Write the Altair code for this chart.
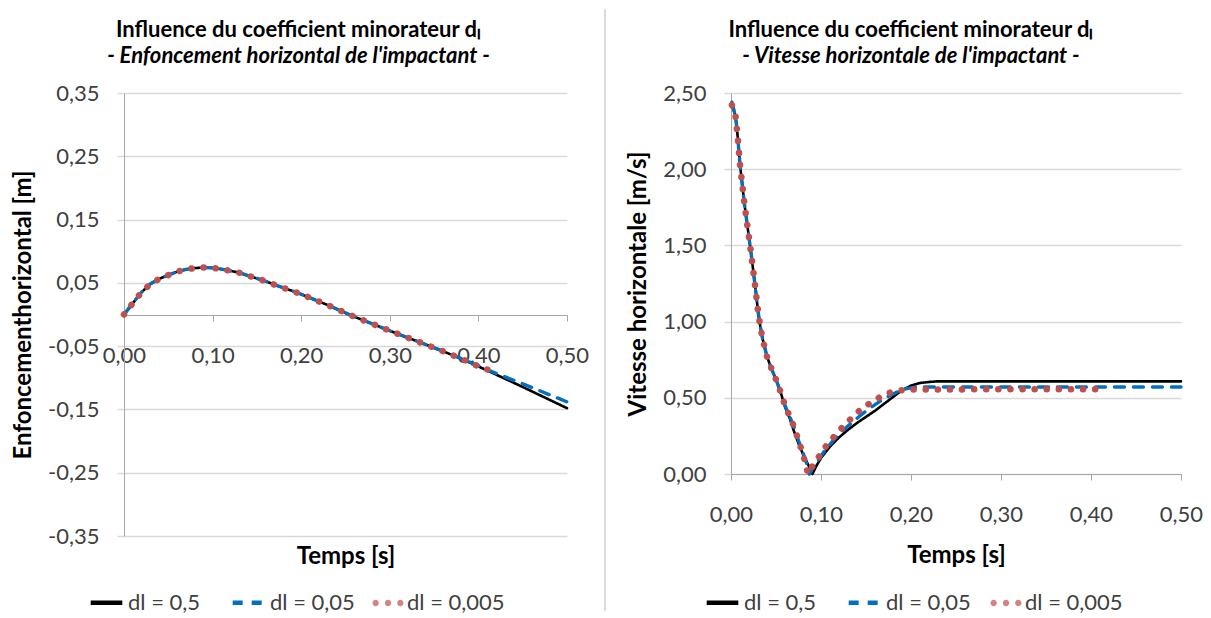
import altair as alt
import pandas as pd

# ---------------- data ----------------
series_names = ["dl = 0,5", "dl = 0,05", "dl = 0,005"]
series_colors = ["#000000", "#0070C0", "#C0504D"]
series_dash = [[1, 0], [10, 9], [0.1, 12]]
series_width = [2.6, 3.4, 6.5]

# Left panel: horizontal penetration [m] vs time [s]
left_t_a = [0, 0.01, 0.02, 0.03, 0.04, 0.05, 0.06, 0.07, 0.08, 0.09, 0.10, 0.11, 0.12, 0.13,
            0.14, 0.15, 0.16, 0.17, 0.18, 0.19, 0.20, 0.21, 0.22, 0.23, 0.24, 0.25, 0.26, 0.28,
            0.30, 0.32, 0.34, 0.36, 0.38, 0.40, 0.42, 0.45, 0.50]
left_v_a = [0, 0.018, 0.0355, 0.0485, 0.0565, 0.0622, 0.0677, 0.0713, 0.0733, 0.0742, 0.0736,
            0.0717, 0.069, 0.0661, 0.0615, 0.057, 0.0525, 0.047, 0.042, 0.0373, 0.032, 0.0263,
            0.0206, 0.0148, 0.0087, 0.0025, -0.0035, -0.0146, -0.0257, -0.0365, -0.0472,
            -0.058, -0.0695, -0.082, -0.095, -0.1145, -0.148]

left_t_b = [0, 0.01, 0.02, 0.03, 0.04, 0.05, 0.06, 0.07, 0.08, 0.09, 0.10, 0.11, 0.12, 0.13,
            0.14, 0.15, 0.16, 0.17, 0.18, 0.19, 0.20, 0.21, 0.22, 0.23, 0.24, 0.25, 0.26, 0.28,
            0.30, 0.32, 0.34, 0.36, 0.38, 0.40, 0.42, 0.45, 0.50]
left_v_b = [0, 0.018, 0.0355, 0.0485, 0.0565, 0.0622, 0.0677, 0.0713, 0.0733, 0.0742, 0.0736,
            0.0717, 0.069, 0.0661, 0.0615, 0.057, 0.0525, 0.047, 0.042, 0.0373, 0.032, 0.0263,
            0.0206, 0.0148, 0.0087, 0.0025, -0.0035, -0.0146, -0.0257, -0.0365, -0.0472,
            -0.058, -0.0693, -0.081, -0.093, -0.1095, -0.138]

left_t_c = [0, 0.01, 0.02, 0.03, 0.04, 0.05, 0.06, 0.07, 0.08, 0.09, 0.10, 0.11, 0.12, 0.13,
            0.14, 0.15, 0.16, 0.17, 0.18, 0.19, 0.20, 0.21, 0.22, 0.23, 0.24, 0.25, 0.26, 0.28,
            0.30, 0.32, 0.34, 0.36, 0.38, 0.40, 0.414]
left_v_c = [0, 0.018, 0.0355, 0.0485, 0.0565, 0.0622, 0.0677, 0.0713, 0.0733, 0.0742, 0.0736,
            0.0717, 0.069, 0.0661, 0.0615, 0.057, 0.0525, 0.047, 0.042, 0.0373, 0.032, 0.0263,
            0.0206, 0.0148, 0.0087, 0.0025, -0.0035, -0.0146, -0.0257, -0.0365, -0.0472,
            -0.058, -0.0695, -0.082, -0.0889]

# Right panel: horizontal velocity [m/s] vs time [s]
right_t_a = [0.001, 0.005, 0.0075, 0.010, 0.0125, 0.015, 0.0175, 0.020, 0.0225, 0.025, 0.0275,
             0.030, 0.0325, 0.035, 0.040, 0.045, 0.050, 0.055, 0.060, 0.065, 0.070, 0.075,
             0.080, 0.085, 0.0905, 0.095, 0.100, 0.110, 0.120, 0.130, 0.140, 0.150, 0.160,
             0.170, 0.180, 0.190, 0.200, 0.210, 0.220, 0.230, 0.50]
right_v_a = [2.42, 2.35, 2.21, 2.03, 1.90, 1.77, 1.66, 1.55, 1.44, 1.32, 1.20, 1.07, 0.97, 0.89,
             0.77, 0.69, 0.62, 0.54, 0.44, 0.37, 0.28, 0.20, 0.13, 0.07, 0.0, 0.055, 0.105, 0.18,
             0.24, 0.29, 0.335, 0.375, 0.415, 0.46, 0.505, 0.55, 0.58, 0.597, 0.604, 0.608,
             0.608]

right_t_b = [0.001, 0.005, 0.0075, 0.010, 0.0125, 0.015, 0.0175, 0.020, 0.0225, 0.025, 0.0275,
             0.030, 0.0325, 0.035, 0.040, 0.045, 0.050, 0.055, 0.060, 0.065, 0.070, 0.075,
             0.080, 0.0845, 0.087, 0.095, 0.105, 0.115, 0.125, 0.135, 0.145, 0.155, 0.165,
             0.175, 0.185, 0.195, 0.205, 0.215, 0.50]
right_v_b = [2.44, 2.35, 2.21, 2.03, 1.90, 1.77, 1.66, 1.55, 1.44, 1.32, 1.20, 1.07, 0.97, 0.89,
             0.77, 0.69, 0.62, 0.54, 0.45, 0.38, 0.31, 0.22, 0.14, 0.06, 0.0, 0.075, 0.16, 0.23,
             0.29, 0.34, 0.39, 0.435, 0.475, 0.51, 0.54, 0.56, 0.569, 0.571, 0.571]

right_t_c = [0.001, 0.005, 0.0075, 0.010, 0.0125, 0.015, 0.0175, 0.020, 0.0225, 0.025, 0.0275,
             0.030, 0.0325, 0.035, 0.040, 0.045, 0.050, 0.055, 0.060, 0.065, 0.070, 0.075,
             0.080, 0.0856, 0.0907, 0.0974, 0.1037, 0.111, 0.1196, 0.1278, 0.1359, 0.1444,
             0.153, 0.161, 0.1692, 0.179, 0.190, 0.200, 0.407]
right_v_c = [2.42, 2.35, 2.21, 2.03, 1.90, 1.77, 1.66, 1.55, 1.44, 1.32, 1.20, 1.07, 0.97, 0.89,
             0.77, 0.69, 0.62, 0.54, 0.45, 0.38, 0.31, 0.22, 0.13, 0.0, 0.054, 0.112, 0.168,
             0.222, 0.28, 0.332, 0.377, 0.425, 0.459, 0.489, 0.517, 0.539, 0.55, 0.555, 0.556]

x_ticks = [0.0, 0.1, 0.2, 0.3, 0.4, 0.5]
left_y_ticks = [-0.35, -0.25, -0.15, -0.05, 0.05, 0.15, 0.25, 0.35]
right_y_ticks = [0.0, 0.5, 1.0, 1.5, 2.0, 2.5]

# ---------------- styling ----------------
FONT = "Lato"
LABEL_COLOR = "#404040"
GRID = "#d9d9d9"
AXIS = "#a6a6a6"
FMT = "(datum.value < 0 ? '-' : '') + replace(format(abs(datum.value), '.2f'), '.', ',')"


def circle_path(cx, r):
    return (f"M{cx - r},0A{r},{r} 0 1,0 {cx + r},0A{r},{r} 0 1,0 {cx - r},0Z")


# legend glyph for the dotted series: three round dots
DOTS_SYMBOL = circle_path(-0.78, 0.2) + circle_path(0, 0.2) + circle_path(0.78, 0.2)


def frame(ts, vs, name):
    return pd.DataFrame({"t": ts, "v": vs, "series": name})


left_df = pd.concat([frame(left_t_a, left_v_a, series_names[0]),
                     frame(left_t_b, left_v_b, series_names[1]),
                     frame(left_t_c, left_v_c, series_names[2])], ignore_index=True)
right_df = pd.concat([frame(right_t_a, right_v_a, series_names[0]),
                      frame(right_t_b, right_v_b, series_names[1]),
                      frame(right_t_c, right_v_c, series_names[2])], ignore_index=True)

color_scale = alt.Scale(domain=series_names, range=series_colors)
dash_scale = alt.Scale(domain=series_names, range=series_dash)
dots_scale = alt.Scale(domain=[series_names[2]], range=[DOTS_SYMBOL])


def line_legend(x, y):
    return alt.Legend(
        title=None, orient="none", legendX=x, legendY=y, direction="horizontal",
        values=series_names[:2], symbolType="stroke", symbolSize=1000, symbolStrokeWidth=4.5,
        labelFont=FONT, labelFontSize=22, labelColor=LABEL_COLOR, labelOffset=3,
        columnPadding=22,
    )


def dots_legend(x, y):
    return alt.Legend(
        title=None, orient="none", legendX=x, legendY=y, direction="horizontal",
        symbolSize=1000, symbolStrokeWidth=0, symbolFillColor=series_colors[2],
        labelFont=FONT, labelFontSize=22, labelColor=LABEL_COLOR, labelOffset=3,
    )


def panel(df, xaxis, yaxis, ydomain, leg_x, red_leg_x, leg_y, title, w, h):
    xenc = alt.X("t:Q", scale=alt.Scale(domain=[0, 0.5], nice=False), axis=xaxis)
    yenc = alt.Y("v:Q", scale=alt.Scale(domain=ydomain, nice=False, zero=False), axis=yaxis)
    legend = line_legend(leg_x, leg_y)
    layers = []
    for name, sw in zip(series_names, series_width):
        layers.append(
            alt.Chart(df)
            .transform_filter(alt.datum.series == name)
            .mark_line(strokeCap="round", strokeJoin="round", strokeWidth=sw)
            .encode(
                x=xenc, y=yenc,
                color=alt.Color("series:N", scale=color_scale, legend=legend),
                strokeDash=alt.StrokeDash("series:N", scale=dash_scale, legend=legend),
            )
        )
    # legend-only layer (draws no marks) giving the dotted series its round-dot key
    layers.append(
        alt.Chart(df)
        .transform_filter("false")
        .mark_point(filled=True, color=series_colors[2], strokeWidth=0)
        .encode(
            x=xenc, y=yenc,
            shape=alt.Shape("series:N", scale=dots_scale,
                            legend=dots_legend(red_leg_x, leg_y + 3)),
        )
    )
    return alt.layer(*layers).properties(width=w, height=h, title=title)


def title_for(sub, dx):
    return alt.TitleParams(
        text="Influence du coefficient minorateur dₗ", subtitle=sub,
        anchor="middle", frame="group", dx=dx, offset=14, subtitlePadding=4,
        font=FONT, fontSize=22, fontWeight="bold", color="#000000",
        subtitleFont=FONT, subtitleFontSize=22, subtitleFontWeight="bold",
        subtitleFontStyle="italic", subtitleColor="#000000",
    )


common_x = dict(values=x_ticks, labelExpr=FMT, tickSize=6, tickColor=AXIS, domainColor=AXIS,
                labelPadding=24, labelFlush=False, grid=False, title="Temps [s]",
                titleBaseline="middle")
common_y = dict(labelExpr=FMT, tickSize=7, tickColor=GRID, tickWidth=1.5, domainColor=AXIS,
                labelPadding=18, grid=True, gridColor=GRID, gridWidth=1.5, titlePadding=12)

left_x_axis = alt.Axis(offset=-221, titleY=241, **common_x)
left_y_axis = alt.Axis(values=left_y_ticks, title="Enfoncementhorizontal [m]", **common_y)
right_x_axis = alt.Axis(titleY=81, **common_x)
right_y_axis = alt.Axis(values=right_y_ticks, title="Vitesse horizontale [m/s]", **common_y)

left = panel(left_df, left_x_axis, left_y_axis, [-0.35, 0.35], -36, 248, 491,
             title_for("- Enfoncement horizontal de l'impactant -", -47), 443, 443)
right = panel(right_df, right_x_axis, right_y_axis, [0, 2.5], -27, 259, 491,
              title_for("- Vitesse horizontale de l'impactant -", -45), 450, 381)

# thin vertical separator between the two charts
separator = (
    alt.Chart(pd.DataFrame({"k": [0]}))
    .mark_rule(color="#cfcfcf", strokeWidth=1.5)
    .encode(x=alt.value(0), y=alt.value(-84), y2=alt.value(518))
    .properties(width=88, height=381)
)

chart = (
    alt.hconcat(left, separator, right, spacing=38, bounds="flush")
    .resolve_scale(x="independent", y="independent", color="independent",
                   strokeDash="independent", shape="independent")
    .resolve_legend(color="independent", strokeDash="independent", shape="independent")
    .properties(padding={"left": 3, "top": 0, "right": 0, "bottom": 0}, background="#ffffff")
    .configure_axis(labelFont=FONT, labelFontSize=22, labelColor=LABEL_COLOR,
                    titleFont=FONT, titleFontSize=24, titleFontWeight="bold", titleColor="#000000")
    .configure_view(strokeWidth=0)
)

chart.save("out.html", embed_options={"renderer": "svg", "actions": False})
